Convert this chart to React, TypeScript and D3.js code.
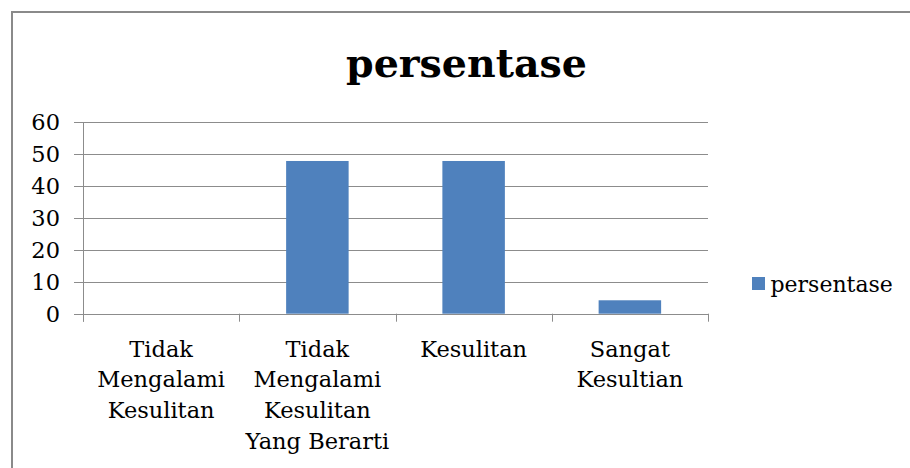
import React, { useEffect, useRef } from "react";
import * as d3 from "d3";

const categories = [
	"Tidak Mengalami Kesulitan",
	"Tidak Mengalami Kesulitan Yang Berarti",
	"Kesulitan",
	"Sangat Kesultian",
];
const values = [0, 47.8, 47.8, 4.2];
const yTicks = [0, 10, 20, 30, 40, 50, 60];
const seriesName = "persentase";
const title = "persentase";

const W = 910;
const H = 468;
const FONT = "'DejaVu Serif', serif";

const App: React.FC = () => {
	const svgRef = useRef<SVGSVGElement | null>(null);

	useEffect(() => {
		document.body.style.margin = "0";
		const svg = d3.select(svgRef.current);
		svg.selectAll("*").remove();

		const left = 83;
		const right = 708;
		const top = 122;
		const bottom = 313.7;

		const x = d3
			.scaleBand<string>()
			.domain(categories)
			.range([left, right])
			.paddingInner(0.6)
			.paddingOuter(0.3);
		const step = x.step();
		const y = d3.scaleLinear().domain([0, 60]).range([bottom, top]);

		// outer frame
		svg.append("rect")
			.attr("x", 12)
			.attr("y", 12)
			.attr("width", W + 20)
			.attr("height", H + 20)
			.attr("fill", "white")
			.attr("stroke", "#8a8a8a")
			.attr("stroke-width", 2);

		// title
		svg.append("text")
			.attr("x", 466.5)
			.attr("y", 77)
			.attr("text-anchor", "middle")
			.style("font-family", FONT)
			.style("font-weight", "bold")
			.style("font-size", "39.5px")
			.attr("fill", "#000")
			.text(title);

		// gridlines
		svg.append("g")
			.selectAll("line")
			.data(yTicks)
			.enter()
			.append("line")
			.attr("x1", left - 9)
			.attr("x2", right)
			.attr("y1", (d) => Math.round(y(d)) + 0.5)
			.attr("y2", (d) => Math.round(y(d)) + 0.5)
			.attr("stroke", "#8c8c8c")
			.attr("stroke-width", 1);

		// y axis line
		svg.append("line")
			.attr("x1", left + 0.5)
			.attr("x2", left + 0.5)
			.attr("y1", top)
			.attr("y2", bottom + 8)
			.attr("stroke", "#8c8c8c");

		// x ticks at category boundaries
		const bounds = d3.range(categories.length + 1).map((i) => left + i * step);
		svg.append("g")
			.selectAll("line")
			.data(bounds)
			.enter()
			.append("line")
			.attr("x1", (d) => Math.round(d) + 0.5)
			.attr("x2", (d) => Math.round(d) + 0.5)
			.attr("y1", bottom)
			.attr("y2", bottom + 8)
			.attr("stroke", "#8c8c8c");

		// y labels
		svg.append("g")
			.selectAll("text")
			.data(yTicks)
			.enter()
			.append("text")
			.attr("x", 60)
			.attr("y", (d) => y(d))
			.attr("dy", "0.36em")
			.attr("text-anchor", "end")
			.style("font-family", FONT)
			.style("font-size", "22.5px")
			.attr("fill", "#000")
			.text((d) => d);

		// bars
		svg.append("g")
			.selectAll("rect")
			.data(values)
			.enter()
			.append("rect")
			.attr("x", (d, i) => x(categories[i])!)
			.attr("y", (d) => y(d))
			.attr("width", x.bandwidth())
			.attr("height", (d) => bottom - y(d))
			.attr("fill", "#4f81bd");

		// category labels, wrapped
		const labels = svg.append("g");
		categories.forEach((c, i) => {
			const cx = left + step * (i + 0.5);
			const t = labels
				.append("text")
				.attr("text-anchor", "middle")
				.style("font-family", FONT)
				.style("font-size", "22.5px")
				.attr("fill", "#000");
			const words = c.split(" ");
			let lines: string[] = [];
			let cur = "";
			const probe = t.append("tspan");
			words.forEach((w) => {
				const test = cur ? cur + " " + w : w;
				probe.text(test);
				const len = (probe.node() as SVGTSpanElement).getComputedTextLength();
				if (len > step - 6 && cur) {
					lines.push(cur);
					cur = w;
				} else {
					cur = test;
				}
			});
			if (cur) lines.push(cur);
			probe.remove();
			lines.forEach((l, j) => {
				t.append("tspan")
					.attr("x", cx)
					.attr("y", 356.7 + j * 30.7)
					.text(l);
			});
		});

		// legend
		svg.append("rect")
			.attr("x", 752)
			.attr("y", 277)
			.attr("width", 13)
			.attr("height", 13)
			.attr("fill", "#4f81bd");
		svg.append("text")
			.attr("x", 770.5)
			.attr("y", 291.7)
			.style("font-family", FONT)
			.style("font-size", "22px")
			.attr("fill", "#000")
			.text(seriesName);
	}, []);

	return <svg ref={svgRef} width={W} height={H} style={{ display: "block" }}></svg>;
};

export default App;
